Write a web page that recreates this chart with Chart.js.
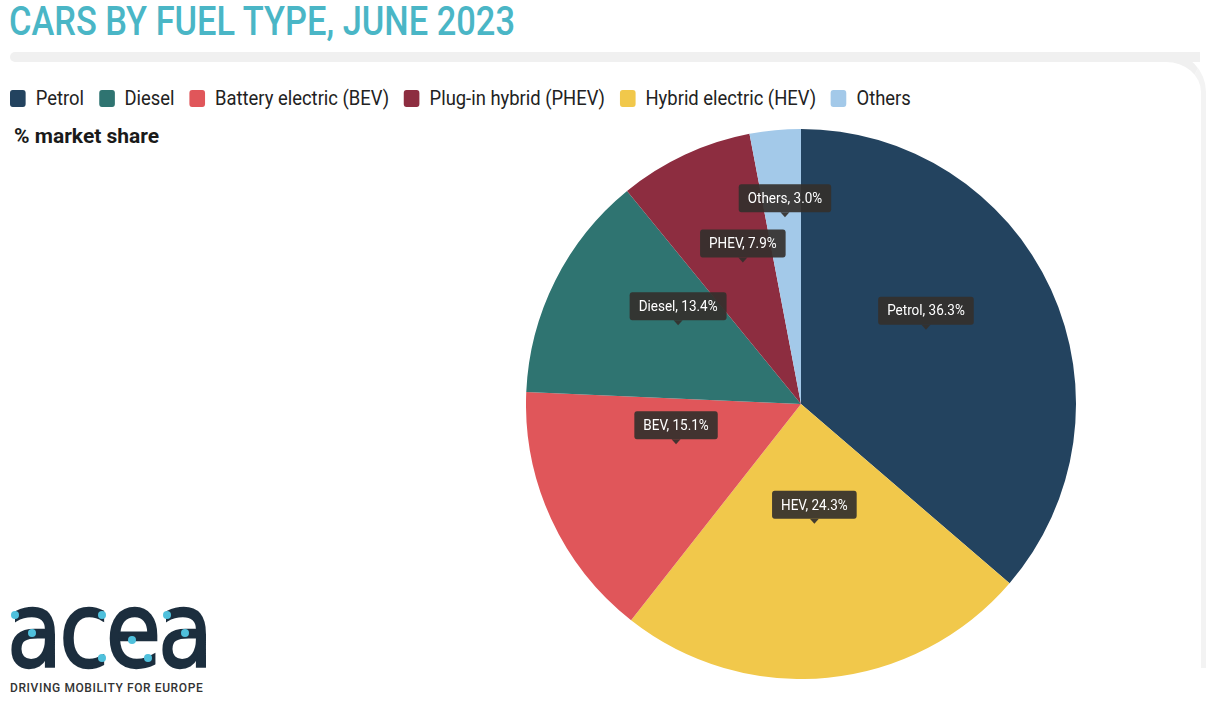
<!DOCTYPE html>
<html><head><meta charset="utf-8">
<script src="https://cdn.jsdelivr.net/npm/chart.js@4/dist/chart.umd.min.js"></script>
<style>
html,body{margin:0;padding:0;background:#fff;width:1226px;height:724px;overflow:hidden;font-family:"Roboto",sans-serif;}
#title{position:absolute;left:9px;top:-2px;font-size:40px;color:#4ab6c6;font-weight:500;white-space:nowrap;transform:scaleX(0.86);transform-origin:0 0;}
#bar{position:absolute;left:10px;top:52px;width:1190px;height:10px;background:#f0f0f0;border-radius:5px 0 0 5px;}
#frame{position:absolute;left:1160px;top:52px;width:46px;height:616px;border-top:10px solid #f0f0f0;border-right:5px solid #f3f3f3;border-radius:0 40px 0 0;box-sizing:border-box;}
#legend{position:absolute;left:10px;top:86px;display:flex;font-size:20px;color:#222;white-space:nowrap;transform:scaleX(0.92);transform-origin:0 0;}
.li{display:flex;align-items:center;margin-right:16px;}
.sw{width:17px;height:17px;border-radius:3px;margin-right:11px;}
#sub{position:absolute;left:14px;top:124px;font-size:21px;font-weight:bold;color:#1a1a1a;}
#wrap{position:absolute;left:526px;top:129px;width:550px;height:550px;}
#logo{position:absolute;left:7px;top:593px;font-family:"DejaVu Sans","Liberation Sans",sans-serif;font-size:90px;color:#1c2e3e;letter-spacing:-3px;line-height:1;-webkit-text-stroke:2px #1c2e3e;transform:scaleY(1.16);transform-origin:0 100%;}
.dot{position:absolute;width:8px;height:8px;border-radius:50%;background:#4fc0dc;margin:-4px 0 0 -4px;}
#tag{position:absolute;left:10px;top:681px;font-family:"Roboto",sans-serif;font-weight:500;font-size:12px;color:#333;letter-spacing:0.6px;}
</style></head><body>
<div id="title">CARS BY FUEL TYPE, JUNE 2023</div>
<div id="bar"></div><div id="frame"></div>
<div id="legend"></div>
<div id="sub">% market share</div>
<div id="wrap"><canvas id="c"></canvas></div>
<div id="logo">acea</div>
<div class="dot" style="left:15px;top:615px"></div>
<div class="dot" style="left:32px;top:633px"></div>
<div class="dot" style="left:102px;top:615px"></div>
<div class="dot" style="left:102px;top:658px"></div>
<div class="dot" style="left:132px;top:640px"></div>
<div class="dot" style="left:148px;top:658px"></div>
<div class="dot" style="left:167px;top:615px"></div>
<div class="dot" style="left:185px;top:633px"></div>
<div id="tag">DRIVING MOBILITY FOR EUROPE</div>
<script>
// slice order (clockwise from 12 o'clock)
const categories = ["Petrol","Hybrid electric (HEV)","Battery electric (BEV)","Diesel","Plug-in hybrid (PHEV)","Others"];
const shortNames = ["Petrol","HEV","BEV","Diesel","PHEV","Others"];
const shares = [36.3, 24.3, 15.1, 13.4, 7.9, 3.0];
const colors = ["#23435f","#f1c84b","#e0565a","#2f7471","#8d2d40","#a3c9e9"];
// legend order
const legendOrder = ["Petrol","Diesel","Battery electric (BEV)","Plug-in hybrid (PHEV)","Hybrid electric (HEV)","Others"];

const lg = document.getElementById('legend');
legendOrder.forEach(n=>{
  const i = categories.indexOf(n);
  const d = document.createElement('div'); d.className='li';
  d.innerHTML = '<div class="sw" style="background:'+colors[i]+'"></div><span>'+n+'</span>';
  lg.appendChild(d);
});

const labelPlugin = {
  id:'boxLabels',
  afterDatasetsDraw(chart){
    const ctx = chart.ctx;
    const meta = chart.getDatasetMeta(0);
    ctx.save();
    ctx.font = '15px Roboto, sans-serif';
    ctx.textAlign='center'; ctx.textBaseline='middle';
    meta.data.forEach((arc,i)=>{
      const p = arc.getProps(['startAngle','endAngle','outerRadius','x','y'],true);
      const mid = (p.startAngle+p.endAngle)/2;
      const f = shares[i] < 5 ? 0.62 : 0.5;
      const tx = p.x + Math.cos(mid)*p.outerRadius*f;
      const ty = p.y + Math.sin(mid)*p.outerRadius*f - 16;
      const txt = shortNames[i]+', '+shares[i].toFixed(1)+'%';
      ctx.save();
      ctx.translate(tx, 0); ctx.scale(0.9, 1);
      const w = ctx.measureText(txt).width + 20, h = 28;
      const bx = -w/2, by = ty - 6 - h;
      ctx.fillStyle = 'rgba(52,48,44,0.92)';
      ctx.beginPath();
      if (ctx.roundRect) ctx.roundRect(bx,by,w,h,3); else ctx.rect(bx,by,w,h);
      ctx.fill();
      ctx.beginPath(); ctx.moveTo(-5,ty-6); ctx.lineTo(5,ty-6); ctx.lineTo(0,ty-1); ctx.closePath(); ctx.fill();
      ctx.fillStyle='#fff';
      ctx.fillText(txt, 0, by+h/2+1);
      ctx.restore();
    });
    ctx.restore();
  }
};

new Chart(document.getElementById('c'),{
  type:'pie',
  data:{labels:categories,datasets:[{data:shares,backgroundColor:colors,borderWidth:0}]},
  options:{responsive:true,maintainAspectRatio:false,animation:false,
    layout:{padding:0},
    plugins:{legend:{display:false},tooltip:{enabled:false}}},
  plugins:[labelPlugin]
});
</script>
</body></html>
